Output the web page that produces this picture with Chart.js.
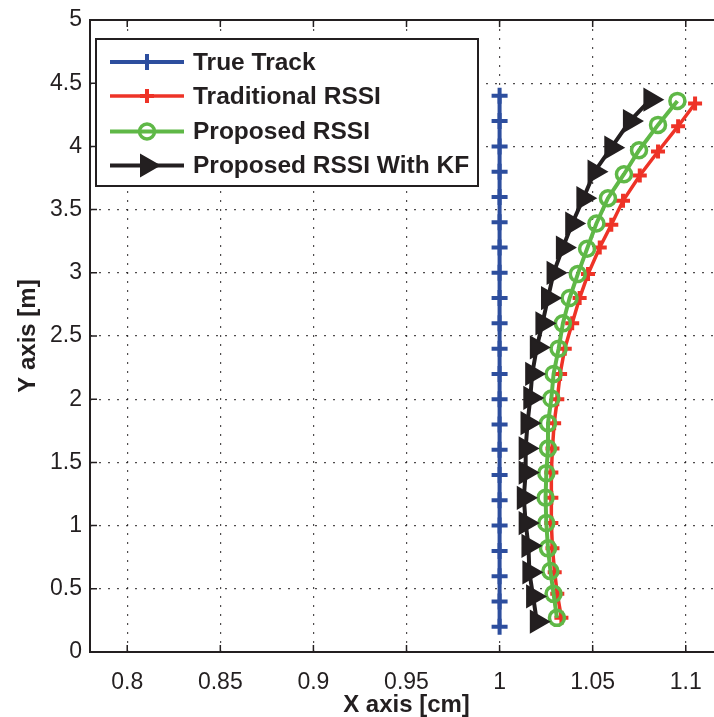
<!DOCTYPE html>
<html>
<head>
<meta charset="utf-8">
<title>Track estimation</title>
<script src="https://cdn.jsdelivr.net/npm/chart.js@4.4.1/dist/chart.umd.min.js"></script>
<style>
  html, body { margin: 0; padding: 0; background: #fff; overflow: hidden; }
  #wrap { width: 740px; height: 717px; }
</style>
</head>
<body>
<div id="wrap"><canvas id="trackChart"></canvas></div>
<script>
// axis ticks
const xTicks = [0.8, 0.85, 0.9, 0.95, 1.0, 1.05, 1.1];
const yTicks = [0, 0.5, 1, 1.5, 2, 2.5, 3, 3.5, 4, 4.5, 5];

// series (x in cm, y in m)
const trueTrackX = [1, 1, 1, 1, 1, 1, 1, 1, 1, 1, 1, 1, 1, 1, 1, 1, 1, 1, 1, 1, 1, 1];
const trueTrackY = [0.2, 0.4, 0.6, 0.8, 1.0, 1.2, 1.4, 1.6, 1.8, 2.0, 2.2, 2.4, 2.6, 2.8, 3.0, 3.2, 3.4, 3.6, 3.8, 4.0, 4.2, 4.4];

const traditionalX = [1.105, 1.0959, 1.0851, 1.0753, 1.0663, 1.060, 1.0538, 1.0475, 1.043, 1.039, 1.035, 1.0325, 1.031, 1.0293, 1.0284, 1.0278, 1.0278, 1.0278, 1.0284, 1.0296, 1.031, 1.0332];
const traditionalY = [4.34, 4.16, 3.96, 3.77, 3.57, 3.38, 3.20, 2.99, 2.80, 2.60, 2.40, 2.20, 2.00, 1.81, 1.61, 1.42, 1.22, 1.02, 0.82, 0.63, 0.46, 0.27];

const proposedX = [1.0955, 1.0851, 1.0749, 1.0668, 1.0582, 1.052, 1.047, 1.042, 1.0376, 1.034, 1.0317, 1.029, 1.0278, 1.026, 1.026, 1.0251, 1.0247, 1.0251, 1.026, 1.0273, 1.029, 1.0308];
const proposedY = [4.36, 4.17, 3.97, 3.78, 3.59, 3.39, 3.19, 2.99, 2.80, 2.60, 2.40, 2.20, 2.005, 1.81, 1.61, 1.415, 1.22, 1.02, 0.82, 0.64, 0.46, 0.27];

const kalmanX = [1.081, 1.070, 1.060, 1.051, 1.045, 1.039, 1.034, 1.029, 1.026, 1.023, 1.020, 1.0175, 1.0165, 1.015, 1.014, 1.014, 1.013, 1.014, 1.0155, 1.016, 1.018, 1.020];
const kalmanY = [4.37, 4.20, 3.99, 3.80, 3.59, 3.39, 3.20, 3.00, 2.80, 2.60, 2.41, 2.20, 2.01, 1.81, 1.61, 1.42, 1.22, 1.02, 0.84, 0.63, 0.44, 0.24];

const toPoints = (xs, ys) => xs.map((x, i) => ({ x: x, y: ys[i] }));

Chart.defaults.font.family = "'Liberation Sans', Arial, Helvetica, sans-serif";
Chart.defaults.color = '#231f20';

const frameColor = '#231f20';

// MATLAB-style box, inward tick marks and the legend inside the axes
const boxAndLegend = {
    id: 'boxAndLegend',
    afterDatasetsDraw(chart) {
        const { ctx, chartArea: a, scales: { x, y } } = chart;
        ctx.save();
        ctx.strokeStyle = frameColor;
        ctx.lineWidth = 1.5;
        ctx.beginPath();
        xTicks.forEach(v => {
            const px = x.getPixelForValue(v);
            ctx.moveTo(px, a.bottom); ctx.lineTo(px, a.bottom - 7);
            ctx.moveTo(px, a.top); ctx.lineTo(px, a.top + 7);
        });
        yTicks.forEach(v => {
            const py = y.getPixelForValue(v);
            ctx.moveTo(a.left, py); ctx.lineTo(a.left + 7, py);
            ctx.moveTo(a.right, py); ctx.lineTo(a.right - 7, py);
        });
        ctx.stroke();
        ctx.lineWidth = 2;
        ctx.strokeRect(a.left, a.top, a.right - a.left, a.bottom - a.top);

        // legend box
        const box = { left: 96, top: 39, width: 382, height: 147 };
        const rows = [62, 96, 131.5, 165.5];
        ctx.fillStyle = '#fff';
        ctx.fillRect(box.left, box.top, box.width, box.height);
        ctx.strokeRect(box.left, box.top, box.width, box.height);

        ctx.font = "bold 24.5px 'Liberation Sans', Arial, sans-serif";
        ctx.textBaseline = 'middle';
        ctx.textAlign = 'left';
        chart.data.datasets.forEach((ds, i) => {
            const ry = rows[i];
            ctx.strokeStyle = ds.borderColor;
            ctx.lineWidth = ds.borderWidth;
            ctx.beginPath();
            ctx.moveTo(110, ry);
            ctx.lineTo(184, ry);
            ctx.stroke();
            ctx.strokeStyle = ds.pointBorderColor;
            ctx.fillStyle = ds.pointBackgroundColor;
            ctx.lineWidth = ds.pointBorderWidth;
            Chart.helpers.drawPoint(ctx, {
                pointStyle: ds.pointStyle,
                radius: ds.pointRadius,
                rotation: ds.pointRotation || 0,
                borderWidth: ds.pointBorderWidth
            }, 147, ry);
            ctx.fillStyle = frameColor;
            ctx.fillText(ds.label, 193, ry + 1);
        });
        ctx.restore();
    }
};

const ctx = document.getElementById('trackChart').getContext('2d');

new Chart(ctx, {
    type: 'scatter',
    data: {
        datasets: [
            {
                label: 'True Track',
                data: toPoints(trueTrackX, trueTrackY),
                showLine: true,
                borderColor: '#2d4e9e',
                borderWidth: 4,
                pointStyle: 'cross',
                pointRadius: 8,
                pointBorderWidth: 4,
                pointBorderColor: '#2d4e9e',
                pointBackgroundColor: '#2d4e9e',
                order: 4
            },
            {
                label: 'Traditional RSSI',
                data: toPoints(traditionalX, traditionalY),
                showLine: true,
                borderColor: '#ee3327',
                borderWidth: 3.5,
                pointStyle: 'cross',
                pointRadius: 7,
                pointBorderWidth: 4,
                pointBorderColor: '#ee3327',
                pointBackgroundColor: '#ee3327',
                order: 3
            },
            {
                label: 'Proposed RSSI',
                data: toPoints(proposedX, proposedY),
                showLine: true,
                borderColor: '#5fb847',
                borderWidth: 4,
                pointStyle: 'circle',
                pointRadius: 7.5,
                pointBorderWidth: 3.5,
                pointBorderColor: '#5fb847',
                pointBackgroundColor: 'rgba(0,0,0,0)',
                order: 2
            },
            {
                label: 'Proposed RSSI With KF',
                data: toPoints(kalmanX, kalmanY),
                showLine: true,
                borderColor: '#231f20',
                borderWidth: 4,
                pointStyle: 'triangle',
                pointRotation: 90,
                pointRadius: 12,
                pointBorderWidth: 2,
                pointBorderColor: '#231f20',
                pointBackgroundColor: '#231f20',
                order: 1
            }
        ]
    },
    options: {
        responsive: true,
        maintainAspectRatio: false,
        animation: false,
        devicePixelRatio: 1,
        layout: { padding: { top: 20, right: 17, bottom: 0, left: 0 } },
        scales: {
            x: {
                type: 'linear',
                min: 0.78,
                max: 1.12,
                afterBuildTicks: scale => { scale.ticks = xTicks.map(v => ({ value: v })); },
                afterFit: scale => { scale.height = 65; },
                ticks: {
                    padding: 19,
                    font: { size: 23, lineHeight: 1 },
                    color: '#231f20',
                    callback: v => String(Number(v.toFixed(2)))
                },
                grid: { color: 'rgba(35,31,32,0.8)', lineWidth: 1.2, drawTicks: false },
                border: { display: false, dash: [2, 7] },
                title: {
                    display: true,
                    text: 'X axis [cm]',
                    font: { size: 24, weight: 'bold', lineHeight: 1 },
                    padding: { top: 0, bottom: 0 },
                    color: '#231f20'
                }
            },
            y: {
                type: 'linear',
                min: 0,
                max: 5,
                afterBuildTicks: scale => { scale.ticks = yTicks.map(v => ({ value: v })); },
                afterFit: scale => { scale.width = 90; },
                ticks: {
                    padding: 8,
                    font: { size: 23, lineHeight: 1 },
                    color: '#231f20',
                    callback: v => String(Number(v.toFixed(2)))
                },
                grid: { color: 'rgba(35,31,32,0.8)', lineWidth: 1.2, drawTicks: false },
                border: { display: false, dash: [2, 7] },
                title: {
                    display: true,
                    text: 'Y axis [m]',
                    font: { size: 24, weight: 'bold', lineHeight: 1 },
                    padding: { top: 16, bottom: 0 },
                    color: '#231f20'
                }
            }
        },
        plugins: {
            legend: { display: false },
            tooltip: { enabled: false }
        }
    },
    plugins: [boxAndLegend]
});
</script>
</body>
</html>
